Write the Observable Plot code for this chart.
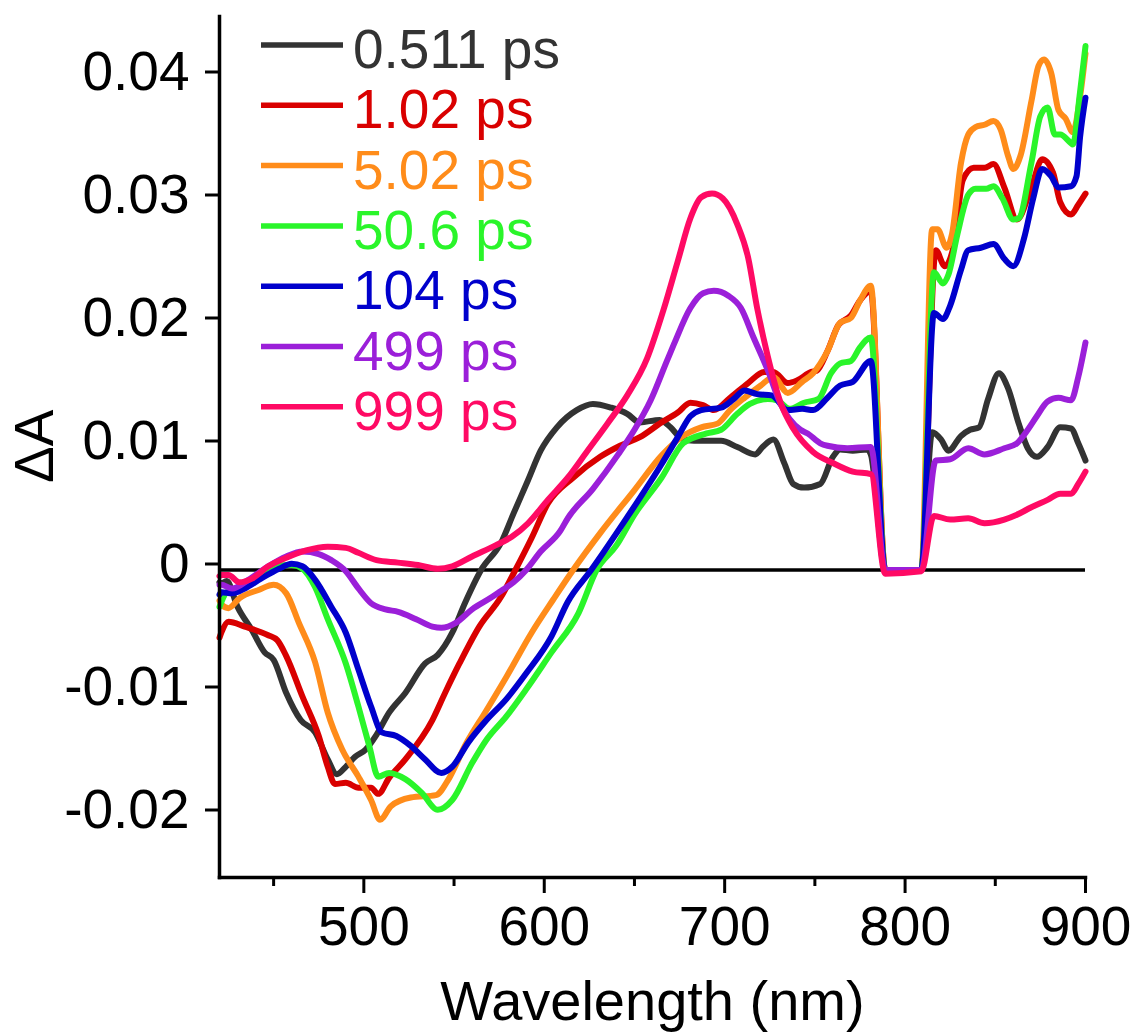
<!DOCTYPE html>
<html>
<head>
<meta charset="utf-8">
<script src="https://cdn.jsdelivr.net/npm/d3@7"></script>
<script src="https://cdn.jsdelivr.net/npm/@observablehq/plot@0.6"></script>
<style>
  html, body { margin: 0; padding: 0; background: #ffffff; }
  #chart { position: relative; width: 1134px; height: 1036px; }
</style>
</head>
<body>
<div id="chart"></div>
<script>
// ---- series metadata ----
const seriesLabels = ["0.511 ps", "1.02 ps", "5.02 ps", "50.6 ps", "104 ps", "499 ps", "999 ps"];
const seriesColors = ["#333333", "#d90000", "#ff8c1a", "#2af52a", "#0000cc", "#9b1fd9", "#ff0a64"];

// ---- tick values ----
const xTicks = [500, 600, 700, 800, 900];
const xMinorTicks = [450, 550, 650, 750, 850];
const yTicks = [-0.02, -0.01, 0, 0.01, 0.02, 0.03, 0.04];

// ---- 0.511 ps ----
const wl_0511 = [420, 421, 424, 430, 438, 445, 450, 457, 465, 473, 480, 485, 490, 495, 501, 507, 514, 523, 534, 541, 549, 556, 565, 576, 583, 591, 598, 607, 618, 627, 637, 646, 653, 664, 670, 676, 683, 698, 707, 717, 721, 727, 733, 738, 744, 753, 760, 764, 771, 779, 781, 789, 809, 815, 820, 824, 831, 836, 841, 846, 852, 857, 863, 868, 873, 879, 886, 892, 896, 900];
const dA_0511 = [-0.0010, -0.0011, -0.0009, -0.0030, -0.0049, -0.0067, -0.0073, -0.0100, -0.0122, -0.0132, -0.0154, -0.0166, -0.0160, -0.0152, -0.0146, -0.0134, -0.0116, -0.0100, -0.0076, -0.0069, -0.0051, -0.0027, 0.0000, 0.0022, 0.0046, 0.0073, 0.0097, 0.0116, 0.0130, 0.0135, 0.0132, 0.0127, 0.0120, 0.0122, 0.0116, 0.0107, 0.0105, 0.0105, 0.0100, 0.0094, 0.0100, 0.0106, 0.0087, 0.0070, 0.0067, 0.0070, 0.0092, 0.0098, 0.0097, 0.0098, 0.0094, 0.0000, 0.0000, 0.0112, 0.0106, 0.0097, 0.0109, 0.0114, 0.0116, 0.0139, 0.0160, 0.0148, 0.0119, 0.0099, 0.0092, 0.0100, 0.0116, 0.0115, 0.0103, 0.0089];

// ---- 1.02 ps ----
const wl_102 = [420, 421, 425, 434, 447, 452, 457, 466, 475, 480, 484, 490, 497, 504, 508, 514, 523, 538, 545, 553, 564, 576, 584, 593, 602, 616, 631, 642, 653, 665, 674, 681, 688, 694, 703, 713, 722, 727, 735, 740, 748, 751, 757, 763, 770, 775, 781, 789, 809, 817, 822, 827, 832, 838, 844, 849, 855, 862, 870, 876, 882, 886, 892, 896, 900];
const dA_102 = [-0.0055, -0.0051, -0.0042, -0.0046, -0.0053, -0.0057, -0.0070, -0.0103, -0.0135, -0.0160, -0.0174, -0.0173, -0.0177, -0.0177, -0.0182, -0.0169, -0.0154, -0.0122, -0.0100, -0.0076, -0.0046, -0.0022, 0.0000, 0.0026, 0.0054, 0.0075, 0.0092, 0.0101, 0.0108, 0.0120, 0.0128, 0.0136, 0.0134, 0.0130, 0.0140, 0.0152, 0.0161, 0.0161, 0.0152, 0.0154, 0.0161, 0.0162, 0.0178, 0.0199, 0.0207, 0.0219, 0.0227, 0.0000, 0.0000, 0.0260, 0.0247, 0.0264, 0.0317, 0.0327, 0.0327, 0.0330, 0.0311, 0.0285, 0.0311, 0.0334, 0.0323, 0.0299, 0.0289, 0.0297, 0.0306];

// ---- 5.02 ps ----
const wl_502 = [420, 421, 425, 431, 442, 450, 457, 464, 473, 480, 488, 497, 504, 509, 515, 526, 540, 547, 556, 568, 579, 593, 605, 616, 631, 650, 665, 676, 687, 696, 703, 711, 720, 727, 735, 743, 749, 757, 764, 770, 775, 781, 789, 809, 815, 818, 823, 826, 831, 835, 839, 844, 849, 853, 857, 860, 864, 870, 874, 877, 881, 885, 889, 893, 897, 900];
const dA_502 = [-0.0025, -0.0028, -0.0031, -0.0023, -0.0016, -0.0012, -0.0019, -0.0043, -0.0075, -0.0116, -0.0146, -0.0168, -0.0187, -0.0203, -0.0192, -0.0185, -0.0183, -0.0170, -0.0143, -0.0114, -0.0087, -0.0051, -0.0024, 0.0000, 0.0030, 0.0065, 0.0093, 0.0108, 0.0116, 0.0119, 0.0130, 0.0140, 0.0150, 0.0157, 0.0144, 0.0153, 0.0160, 0.0178, 0.0201, 0.0205, 0.0219, 0.0231, 0.0000, 0.0000, 0.0277, 0.0277, 0.0262, 0.0273, 0.0331, 0.0354, 0.0360, 0.0362, 0.0365, 0.0358, 0.0337, 0.0326, 0.0337, 0.0381, 0.0410, 0.0415, 0.0404, 0.0374, 0.0367, 0.0356, 0.0385, 0.0420];

// ---- 50.6 ps ----
const wl_506 = [420, 424, 431, 442, 451, 460, 466, 473, 480, 490, 497, 503, 508, 514, 523, 532, 541, 549, 560, 568, 579, 590, 604, 619, 629, 640, 650, 665, 677, 690, 698, 707, 714, 724, 729, 736, 744, 752, 759, 764, 770, 775, 781, 789, 809, 816, 821, 824, 829, 835, 839, 845, 849, 854, 860, 863, 870, 875, 879, 883, 886, 892, 893, 897, 900];
const dA_506 = [-0.0030, -0.0018, -0.0014, -0.0004, 0.0003, 0.0004, 0.0001, -0.0014, -0.0040, -0.0076, -0.0111, -0.0143, -0.0168, -0.0165, -0.0170, -0.0181, -0.0195, -0.0187, -0.0157, -0.0138, -0.0119, -0.0097, -0.0067, -0.0035, 0.0000, 0.0020, 0.0045, 0.0075, 0.0103, 0.0111, 0.0114, 0.0127, 0.0135, 0.0139, 0.0138, 0.0131, 0.0136, 0.0139, 0.0160, 0.0168, 0.0170, 0.0181, 0.0189, 0.0000, 0.0000, 0.0242, 0.0233, 0.0240, 0.0273, 0.0305, 0.0310, 0.0310, 0.0312, 0.0302, 0.0285, 0.0286, 0.0331, 0.0369, 0.0376, 0.0354, 0.0354, 0.0347, 0.0346, 0.0389, 0.0426];

// ---- 104 ps ----
const wl_104 = [420, 421, 427, 434, 443, 453, 460, 466, 473, 482, 490, 497, 504, 510, 518, 526, 534, 543, 549, 558, 568, 579, 590, 604, 613, 626, 646, 665, 674, 681, 687, 698, 705, 711, 718, 726, 735, 743, 749, 757, 764, 771, 781, 789, 809, 816, 821, 825, 831, 835, 842, 849, 855, 860, 866, 871, 876, 881, 885, 892, 895, 897, 900];
const dA_104 = [-0.0020, -0.0018, -0.0019, -0.0015, -0.0007, 0.0001, 0.0005, 0.0003, -0.0008, -0.0030, -0.0051, -0.0081, -0.0111, -0.0132, -0.0135, -0.0143, -0.0154, -0.0165, -0.0160, -0.0140, -0.0122, -0.0105, -0.0084, -0.0054, -0.0026, 0.0000, 0.0043, 0.0086, 0.0108, 0.0125, 0.0130, 0.0132, 0.0139, 0.0146, 0.0143, 0.0142, 0.0130, 0.0131, 0.0130, 0.0140, 0.0150, 0.0153, 0.0170, 0.0000, 0.0000, 0.0209, 0.0204, 0.0215, 0.0244, 0.0260, 0.0262, 0.0265, 0.0253, 0.0247, 0.0270, 0.0302, 0.0326, 0.0320, 0.0311, 0.0312, 0.0320, 0.0352, 0.0384];

// ---- 499 ps ----
const wl_499 = [420, 421, 427, 436, 447, 457, 466, 475, 482, 490, 497, 504, 512, 519, 529, 538, 543, 551, 560, 571, 576, 583, 590, 598, 609, 613, 627, 641, 650, 659, 668, 672, 681, 688, 694, 702, 709, 716, 724, 731, 742, 746, 753, 757, 768, 781, 789, 809, 817, 825, 835, 844, 855, 862, 868, 873, 879, 885, 892, 896, 900];
const dA_499 = [-0.0012, -0.0012, -0.0015, -0.0008, 0.0003, 0.0011, 0.0015, 0.0013, 0.0008, -0.0001, -0.0015, -0.0027, -0.0032, -0.0034, -0.0040, -0.0046, -0.0047, -0.0043, -0.0032, -0.0022, -0.0017, -0.0010, 0.0000, 0.0015, 0.0032, 0.0042, 0.0066, 0.0094, 0.0114, 0.0138, 0.0170, 0.0184, 0.0213, 0.0225, 0.0227, 0.0223, 0.0213, 0.0189, 0.0162, 0.0135, 0.0114, 0.0111, 0.0103, 0.0101, 0.0099, 0.0100, 0.0000, 0.0000, 0.0089, 0.0090, 0.0099, 0.0094, 0.0099, 0.0103, 0.0114, 0.0125, 0.0137, 0.0140, 0.0138, 0.0157, 0.0185];

// ---- 999 ps ----
const wl_999 = [420, 421, 425, 431, 438, 447, 457, 468, 480, 490, 497, 507, 519, 530, 541, 549, 560, 573, 582, 591, 602, 613, 624, 635, 646, 657, 666, 674, 681, 687, 693, 699, 707, 713, 718, 724, 731, 738, 749, 760, 771, 781, 789, 809, 816, 825, 835, 844, 855, 862, 870, 879, 886, 892, 896, 900];
const dA_999 = [-0.0005, -0.0004, -0.0004, -0.0010, -0.0007, 0.0003, 0.0010, 0.0016, 0.0019, 0.0018, 0.0014, 0.0008, 0.0006, 0.0004, 0.0001, 0.0003, 0.0011, 0.0020, 0.0027, 0.0038, 0.0057, 0.0075, 0.0097, 0.0119, 0.0142, 0.0172, 0.0211, 0.0251, 0.0286, 0.0303, 0.0306, 0.0302, 0.0281, 0.0254, 0.0213, 0.0173, 0.0136, 0.0115, 0.0096, 0.0087, 0.0080, 0.0078, -0.0003, -0.0001, 0.0044, 0.0041, 0.0042, 0.0038, 0.0041, 0.0045, 0.0051, 0.0057, 0.0062, 0.0062, 0.0070, 0.0080];

// ---- build the long table ----
const seriesWavelengths = [wl_0511, wl_102, wl_502, wl_506, wl_104, wl_499, wl_999];
const seriesValues = [dA_0511, dA_102, dA_502, dA_506, dA_104, dA_499, dA_999];
const rows = [];
seriesLabels.forEach((label, i) => {
  seriesWavelengths[i].forEach((w, j) => rows.push({series: label, wl: w, dA: seriesValues[i][j]}));
});

const FONT = "'Liberation Sans', Arial, Helvetica, sans-serif";

const chart = Plot.plot({
  width: 1134,
  height: 1036,
  marginLeft: 219,
  marginRight: 49,
  marginTop: 16,
  marginBottom: 159,
  style: {fontFamily: FONT, background: "#ffffff", color: "#000000"},
  x: {domain: [420, 900]},
  y: {domain: [-0.025, 0.045]},
  color: {domain: seriesLabels, range: seriesColors},
  marks: [
    Plot.ruleY([0], {stroke: "#000000", strokeWidth: 3.5}),
    Plot.line(rows, {x: "wl", y: "dA", z: "series", stroke: "series", strokeWidth: 6, curve: "monotone-x"}),
    Plot.frame({anchor: "left", stroke: "#000000", strokeWidth: 3.5}),
    Plot.frame({anchor: "bottom", stroke: "#000000", strokeWidth: 3.5}),
    Plot.axisX(xTicks, {tickSize: 16, tickPadding: 12, fontSize: 55, strokeWidth: 3, tickFormat: d => String(d), label: null}),
    Plot.axisX(xMinorTicks, {tickSize: 9, strokeWidth: 3, tickFormat: () => "", label: null}),
    Plot.axisY(yTicks, {tickSize: 14, tickPadding: 16, fontSize: 55, dy: -6, strokeWidth: 3,
      tickFormat: d => d === 0 ? "0" : d.toFixed(2), label: null}),
    Plot.text(["Wavelength (nm)"], {frameAnchor: "bottom", dy: 142, fontSize: 56, fill: "#000000"}),
    Plot.text(["ΔA"], {frameAnchor: "left", dx: -184, dy: 36, rotate: -90, fontSize: 55, fill: "#000000"})
  ]
});

// ---- legend inside the plot area (top-left) ----
const legendX1 = 261, legendX2 = 343, legendTextX = 353, legendTop = 45, legendStep = 60.3;
const legend = d3.select(chart).append("g")
  .attr("font-family", FONT)
  .attr("font-size", 55)
  .attr("text-anchor", "start");
seriesLabels.forEach((label, i) => {
  const y = legendTop + i * legendStep;
  legend.append("line")
    .attr("x1", legendX1).attr("x2", legendX2)
    .attr("y1", y).attr("y2", y)
    .attr("stroke", seriesColors[i]).attr("stroke-width", 5.5);
  legend.append("text")
    .attr("x", legendTextX).attr("y", y + 23)
    .attr("text-anchor", "start")
    .attr("fill", seriesColors[i])
    .text(label);
});

document.getElementById("chart").appendChild(chart);
</script>
</body>
</html>
